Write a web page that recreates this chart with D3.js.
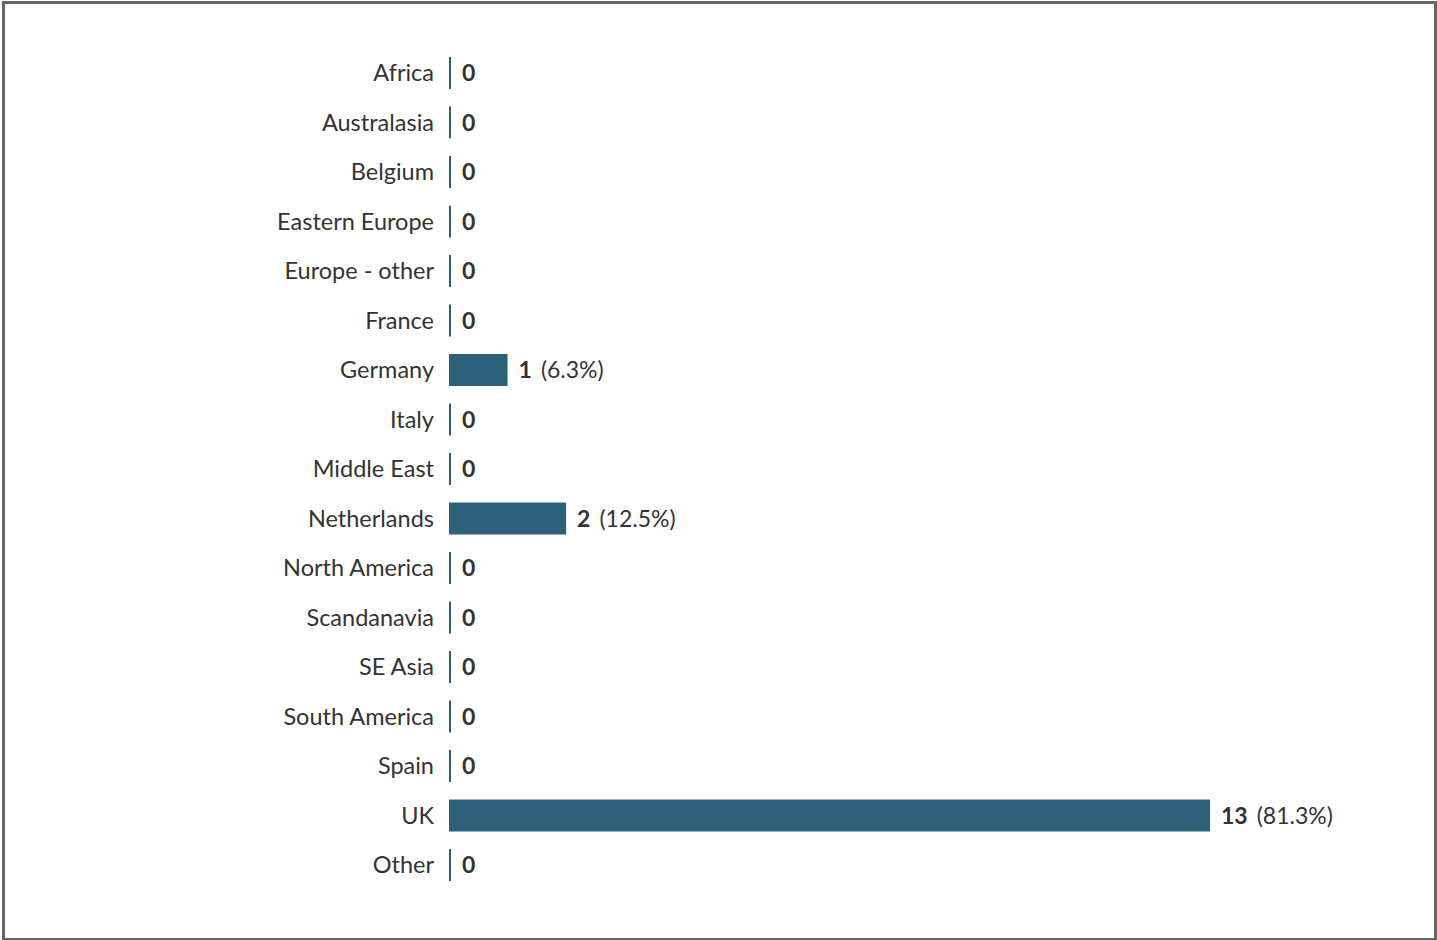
<!DOCTYPE html>
<html>
<head>
<meta charset="utf-8">
<script src="https://cdn.jsdelivr.net/npm/d3@7"></script>
<style>
  html, body { margin: 0; padding: 0; background: #fff; }
  svg { display: block; }
  text { font-family: Lato, "Open Sans", sans-serif; }
</style>
</head>
<body>
<svg id="chart" width="1437" height="940"></svg>
<script>
const categories = ["Africa", "Australasia", "Belgium", "Eastern Europe", "Europe - other", "France", "Germany", "Italy", "Middle East", "Netherlands", "North America", "Scandanavia", "SE Asia", "South America", "Spain", "UK", "Other"];
const counts = [0, 0, 0, 0, 0, 0, 1, 0, 0, 2, 0, 0, 0, 0, 0, 13, 0];
const percentLabels = ["", "", "", "", "", "", "(6.3%)", "", "", "(12.5%)", "", "", "", "", "", "(81.3%)", ""];

const svg = d3.select("#chart");
const W = 1437, H = 940;

svg.append("rect")
  .attr("x", 3.5).attr("y", 2.5)
  .attr("width", W - 5).attr("height", H - 3)
  .attr("fill", "#fff")
  .attr("stroke", "#666")
  .attr("stroke-width", 3);

const data = categories.map((c, i) => ({ cat: c, v: counts[i], pct: percentLabels[i] }));

const x = d3.scaleLinear().domain([0, 13]).range([449, 1210]);
const y = d3.scaleBand().domain(categories).range([57, 881]).paddingInner(0.354).paddingOuter(0);

const barColor = "#2d6079";
const textColor = "#333";

// category labels
svg.append("g").selectAll("text")
  .data(data).join("text")
  .attr("x", 434)
  .attr("y", d => y(d.cat) + y.bandwidth() / 2)
  .attr("dy", "0.36em")
  .attr("text-anchor", "end")
  .attr("font-size", 23.5)
  .attr("fill", textColor)
  .text(d => d.cat);

// bars (zero values drawn as a thin rule)
svg.append("g").selectAll("rect")
  .data(data).join("rect")
  .attr("x", x(0))
  .attr("y", d => y(d.cat))
  .attr("width", d => Math.max(2, x(d.v) - x(0)))
  .attr("height", y.bandwidth())
  .attr("fill", barColor);

// value labels
const vl = svg.append("g").selectAll("text")
  .data(data).join("text")
  .attr("x", d => x(0) + Math.max(2, x(d.v) - x(0)) + 11)
  .attr("y", d => y(d.cat) + y.bandwidth() / 2)
  .attr("dy", "0.36em")
  .attr("font-size", 23)
  .attr("fill", textColor);

vl.append("tspan")
  .attr("font-weight", "bold")
  .text(d => d.v);

vl.filter(d => d.pct !== "").append("tspan")
  .attr("dx", 9)
  .text(d => d.pct);
</script>
</body>
</html>
